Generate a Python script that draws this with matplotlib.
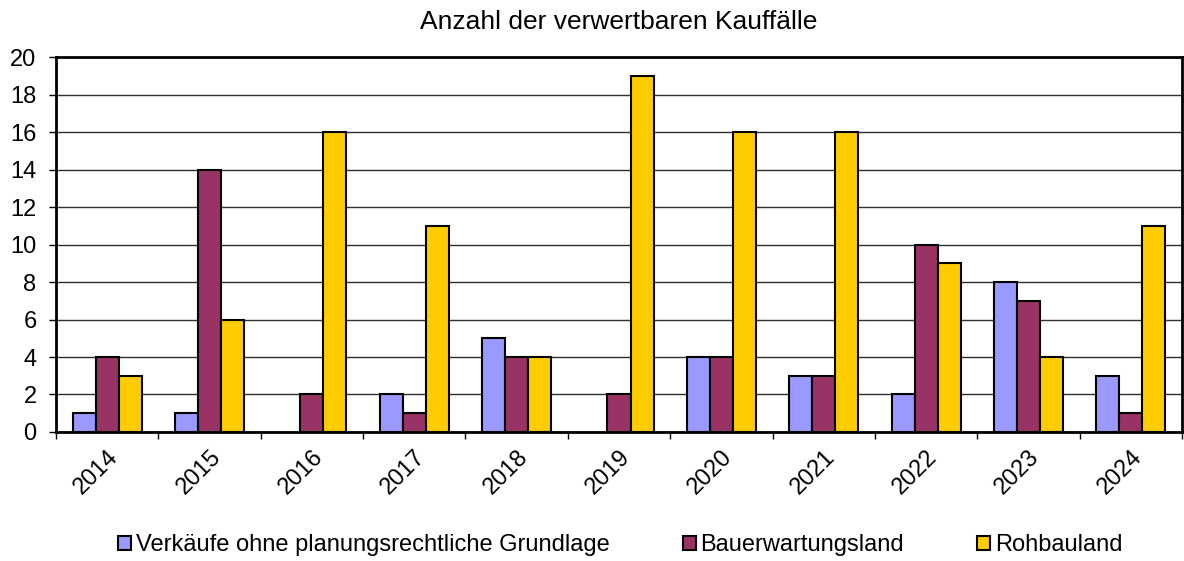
import matplotlib.pyplot as plt
import numpy as np

plt.rcParams['font.family'] = ['Liberation Sans', 'DejaVu Sans']

jahre = ['2014', '2015', '2016', '2017', '2018', '2019', '2020', '2021', '2022', '2023', '2024']
ohne_grundlage = [1, 1, 0, 2, 5, 0, 4, 3, 2, 8, 3]
bauerwartungsland = [4, 14, 2, 1, 4, 2, 4, 3, 10, 7, 1]
rohbauland = [3, 6, 16, 11, 4, 19, 16, 16, 9, 4, 11]

serien = [
    ('Verkäufe ohne planungsrechtliche Grundlage', ohne_grundlage, '#9999FF'),
    ('Bauerwartungsland', bauerwartungsland, '#993366'),
    ('Rohbauland', rohbauland, '#FFCC00'),
]

fig = plt.figure(figsize=(11.84, 5.61), dpi=100)
ax = fig.add_axes([0.0473, 0.23, 0.951, 0.668])

x = np.arange(len(jahre))
w = 0.225
for i, (name, werte, farbe) in enumerate(serien):
    bars = ax.bar(x + (i - 1) * w, werte, w, color=farbe, edgecolor='black',
                  linewidth=1.5, label=name, zorder=3)
    # empty categories get no outline either
    for b, v in zip(bars, werte):
        if v == 0:
            b.set_visible(False)

ax.set_xlim(-0.5, len(jahre) - 0.5)
ax.set_ylim(0, 20)
ax.set_yticks(range(0, 21, 2))
ax.yaxis.grid(True, color='#303030', linewidth=1.0, zorder=0)

# category ticks sit between the groups, labels in the middle
ax.set_xticks(np.arange(len(jahre) + 1) - 0.5)
ax.set_xticklabels([])
ax.set_xticks(x, minor=True)
ax.set_xticklabels(jahre, minor=True, rotation=45, fontsize=17)
ax.tick_params(axis='x', which='minor', length=0, pad=10)
ax.tick_params(axis='x', which='major', length=5, width=1, direction='out')
ax.tick_params(axis='y', length=5, width=1, labelsize=17, pad=9)
for lbl in ax.get_xticklabels(minor=True):
    lbl.set_ha('right')
    lbl.set_va('top')
    lbl.set_rotation_mode('anchor')

for s in ax.spines.values():
    s.set_linewidth(2)

ax.set_title('Anzahl der verwertbaren Kauffälle', fontsize=19, pad=20)

fig.legend(loc='center', bbox_to_anchor=(0.524, 0.028), ncol=3, frameon=False,
           fontsize=17, handlelength=0.55, handleheight=0.55, handletextpad=0.2,
           columnspacing=3.1)

fig.savefig('out.png', dpi=100)
